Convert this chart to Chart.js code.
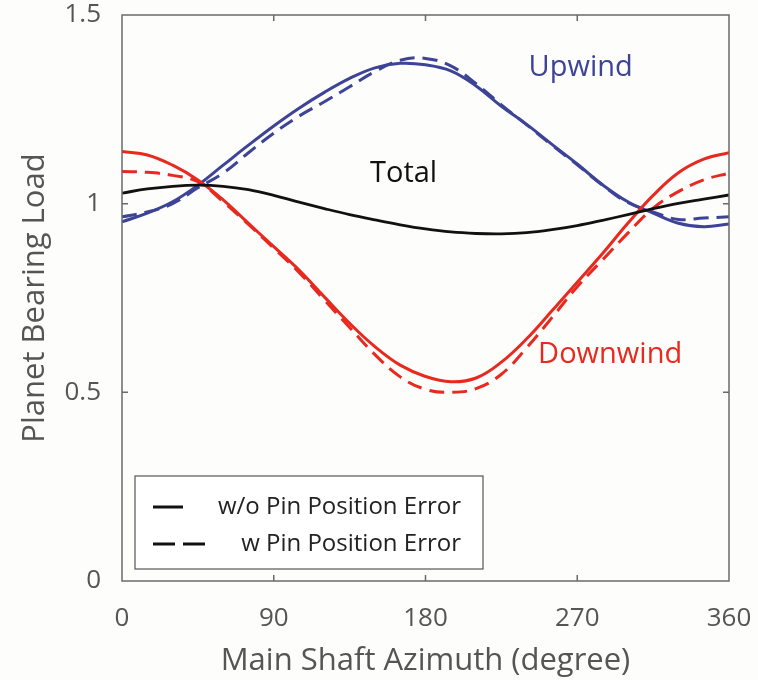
<!DOCTYPE html>
<html>
<head>
<meta charset="utf-8">
<script src="https://cdn.jsdelivr.net/npm/chart.js@4.4.1/dist/chart.umd.min.js"></script>
<style>
  html, body { margin: 0; padding: 0; background: #fdfdfb; }
  canvas { display: block; }
</style>
</head>
<body>
<canvas id="loadChart" width="758" height="680"></canvas>
<script>
// ===== DATA =====
const azimuth = [0, 15, 30, 45, 60, 75, 90, 105, 120, 135, 150, 165, 180,
                 195, 210, 225, 240, 255, 270, 285, 300, 315, 330, 345, 360];

const upwindNoError = [0.952, 0.975, 1.005, 1.049, 1.102, 1.155, 1.206, 1.253, 1.295, 1.332, 1.360, 1.372, 1.368,
                       1.352, 1.312, 1.258, 1.210, 1.157, 1.105, 1.050, 1.005, 0.975, 0.948, 0.939, 0.946];
const upwindPinError = [0.965, 0.978, 1.000, 1.042, 1.081, 1.135, 1.187, 1.232, 1.270, 1.310, 1.350, 1.380, 1.385,
                        1.365, 1.318, 1.262, 1.209, 1.155, 1.103, 1.049, 1.003, 0.978, 0.958, 0.962, 0.965];

const downwindNoError = [1.138, 1.129, 1.102, 1.063, 1.010, 0.948, 0.886, 0.824, 0.753, 0.683, 0.621, 0.572, 0.542,
                         0.528, 0.538, 0.580, 0.642, 0.716, 0.792, 0.868, 0.948, 1.022, 1.082, 1.118, 1.135];
const downwindPinError = [1.085, 1.083, 1.075, 1.058, 1.005, 0.945, 0.882, 0.818, 0.745, 0.672, 0.600, 0.541, 0.508,
                          0.500, 0.510, 0.548, 0.618, 0.698, 0.780, 0.851, 0.922, 0.988, 1.032, 1.063, 1.081];

const totalLoad = [1.028, 1.039, 1.046, 1.049, 1.046, 1.037, 1.022, 1.004, 0.987, 0.971, 0.957, 0.944, 0.933,
                   0.925, 0.921, 0.920, 0.923, 0.931, 0.942, 0.956, 0.971, 0.987, 1.001, 1.012, 1.023];

const xTicks = [0, 90, 180, 270, 360];
const yTicks = [0, 0.5, 1, 1.5];

const legendLabels = ['w/o Pin Position Error', 'w Pin Position Error'];
const curveLabels = [
  { text: 'Upwind', x: 272, y: 1.36, color: '#3d4396' },
  { text: 'Total', x: 167, y: 1.08, color: '#111111' },
  { text: 'Downwind', x: 289.5, y: 0.60, color: '#e8291f' }
];

// ===== STYLE =====
const BLUE = '#3d4396';
const RED = '#e8291f';
const FRAME = '#6a6a6a';
const FONT = "'Open Sans', sans-serif";
const DASH = [15, 8];

const pts = (vals) => azimuth.map((a, i) => ({ x: a, y: vals[i] }));

function line(label, vals, color, dashed, width) {
  return {
    label: label,
    data: pts(vals),
    borderColor: color,
    borderWidth: width || 3,
    borderDash: dashed ? DASH : [],
    pointRadius: 0,
    tension: 0.4,
    fill: false
  };
}

// box, inward ticks, legend and curve names
const framePlugin = {
  id: 'frame',
  afterDatasetsDraw(chart) {
    const { ctx, chartArea: a, scales: { x, y } } = chart;
    ctx.save();

    // curve names
    ctx.font = '29px ' + FONT;
    ctx.textAlign = 'center';
    ctx.textBaseline = 'middle';
    curveLabels.forEach(c => {
      ctx.fillStyle = c.color;
      ctx.fillText(c.text, x.getPixelForValue(c.x), y.getPixelForValue(c.y));
    });

    // axes box
    ctx.strokeStyle = FRAME;
    ctx.lineWidth = 1.5;
    ctx.strokeRect(a.left, a.top, a.right - a.left, a.bottom - a.top);

    // ticks pointing inward on all four sides
    const len = 6;
    ctx.beginPath();
    xTicks.slice(1, -1).forEach(v => {
      const px = x.getPixelForValue(v);
      ctx.moveTo(px, a.bottom); ctx.lineTo(px, a.bottom - len);
      ctx.moveTo(px, a.top); ctx.lineTo(px, a.top + len);
    });
    yTicks.slice(1, -1).forEach(v => {
      const py = y.getPixelForValue(v);
      ctx.moveTo(a.left, py); ctx.lineTo(a.left + len, py);
      ctx.moveTo(a.right, py); ctx.lineTo(a.right - len, py);
    });
    ctx.stroke();

    // legend box, lower left inside the axes
    const bx = a.left + 13, bw = 348, bh = 93;
    const by = a.bottom - 12 - bh;
    ctx.fillStyle = '#ffffff';
    ctx.fillRect(bx, by, bw, bh);
    ctx.lineWidth = 1.2;
    ctx.strokeStyle = '#555555';
    ctx.strokeRect(bx, by, bw, bh);

    const rows = [by + 31, by + 68];
    ctx.strokeStyle = '#111111';
    ctx.lineWidth = 3;
    ctx.beginPath();
    ctx.moveTo(bx + 18, rows[0]); ctx.lineTo(bx + 48, rows[0]);
    ctx.stroke();
    ctx.setLineDash([22, 8]);
    ctx.beginPath();
    ctx.moveTo(bx + 18, rows[1]); ctx.lineTo(bx + 70, rows[1]);
    ctx.stroke();
    ctx.setLineDash([]);

    ctx.font = '24px ' + FONT;
    ctx.fillStyle = '#222222';
    ctx.textAlign = 'right';
    ctx.textBaseline = 'middle';
    legendLabels.forEach((t, i) => ctx.fillText(t, bx + bw - 22, rows[i]));

    ctx.restore();
  }
};

// ===== LINE CHART =====
const ctx = document.getElementById('loadChart').getContext('2d');
new Chart(ctx, {
  type: 'line',
  data: {
    datasets: [
      line('Total', totalLoad, '#111111', false, 2.8),
      line('Downwind', downwindNoError, RED, false),
      line('Downwind (pin error)', downwindPinError, RED, true),
      line('Upwind', upwindNoError, BLUE, false),
      line('Upwind (pin error)', upwindPinError, BLUE, true)
    ]
  },
  options: {
    responsive: false,
    animation: false,
    layout: { padding: { left: 0, top: 15, right: 29, bottom: 0 } },
    scales: {
      x: {
        type: 'linear',
        min: 0,
        max: 360,
        afterBuildTicks: s => { s.ticks = xTicks.map(v => ({ value: v })); },
        afterFit: s => { s.height = 99; s.paddingLeft = 0; s.paddingRight = 0; },
        grid: { display: false, drawTicks: false },
        border: { display: false },
        ticks: { color: '#555555', padding: 22, font: { family: FONT, size: 26 }, callback: v => String(v) },
        title: {
          display: true,
          text: 'Main Shaft Azimuth (degree)',
          color: '#555555',
          padding: { top: 0, bottom: 0 },
          font: { family: FONT, size: 31 }
        }
      },
      y: {
        min: 0,
        max: 1.5,
        afterBuildTicks: s => { s.ticks = yTicks.map(v => ({ value: v })); },
        afterFit: s => { s.width = 122; s.paddingTop = 0; s.paddingBottom = 0; },
        grid: { display: false, drawTicks: false },
        border: { display: false },
        ticks: { color: '#555555', padding: 21, font: { family: FONT, size: 26 }, callback: v => String(v) },
        title: {
          display: true,
          text: 'Planet Bearing Load',
          color: '#555555',
          padding: { top: 17, bottom: 0 },
          font: { family: FONT, size: 31 }
        }
      }
    },
    plugins: {
      legend: { display: false },
      tooltip: { enabled: false }
    }
  },
  plugins: [framePlugin]
});
</script>
</body>
</html>
